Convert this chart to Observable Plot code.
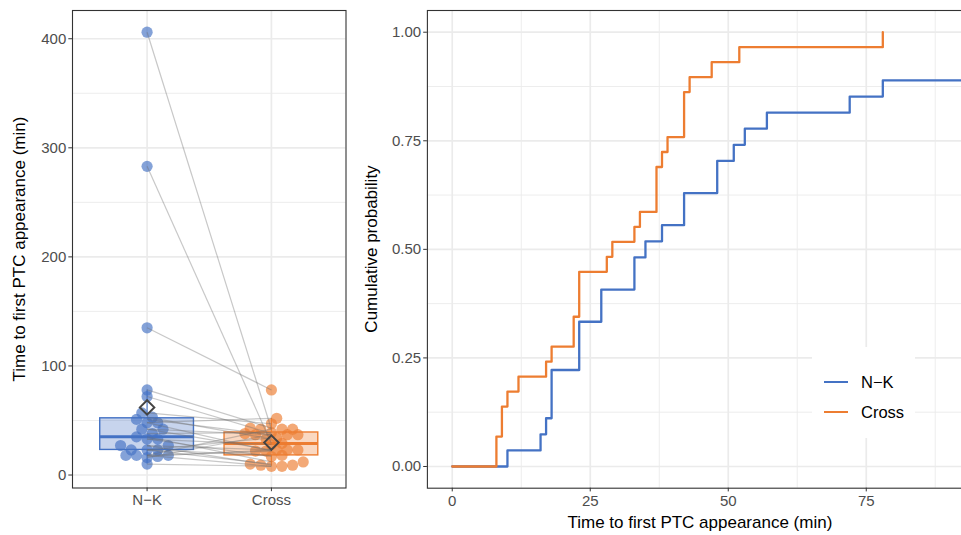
<!DOCTYPE html>
<html><head><meta charset="utf-8">
<script src="https://cdn.jsdelivr.net/npm/d3@7"></script>
<script src="https://cdn.jsdelivr.net/npm/@observablehq/plot@0.6"></script>
<style>
html,body{margin:0;padding:0;background:#fff;overflow:hidden;width:961px;height:535px;}
#wrap{position:relative;width:961px;height:535px;overflow:hidden;font-family:"Liberation Sans",Arial,sans-serif;}
.abs{position:absolute;}
.title{position:absolute;font-size:17px;color:#000;white-space:nowrap;}
</style></head><body><div id="wrap"></div>
<script>
// ---- data ----
const groups = ["N\u2212K", "Cross"];
const groupColors = ["#4472C4", "#ED7D31"];
// paired subjects: nkTimes[i] <-> crossTimes[i]; last two Cross values unpaired
const nkTimes = [406, 283, 135, 78, 72, 57, 53, 51, 48, 48, 42, 42, 38, 35, 33, 33, 27, 27, 23, 23, 23, 18, 18, 18, 17, 16, 10];
const crossTimes = [42, 29, 78, 43, 38, 47, 33, 37, 22, 52, 37, 23, 39, 12, 28, 17, 23, 9, 34, 18, 10, 42, 8, 22, 23, 37, 8, 9, 42];
const leftYTicks = [0, 100, 200, 300, 400];
const leftYMinor = [50, 150, 250, 350];
const ecdfXTicks = [0, 25, 50, 75];
const ecdfXMinor = [12.5, 37.5, 62.5, 87.5];
const ecdfYTicks = [0, 0.25, 0.5, 0.75, 1];
const ecdfYMinor = [0.125, 0.375, 0.625, 0.875];
const yTitle = "Time to first PTC appearance (min)";
const xTitle = "Time to first PTC appearance (min)";
const ecdfYTitle = "Cumulative probability";

const wrap = document.getElementById("wrap");
const FONT = "Liberation Sans, Arial, sans-serif";
const TICK_FS = 15;
const GRID = "#EBEBEB";

// ---- left panel ----
const L = {width: 380, height: 535, ml: 72, mr: 34.5, mt: 10, mb: 47.5};
const leftYDomain = [-11.9, 425.9];
const leftXDomain = [0.4, 2.6];
const yPx = d3.scaleLinear(leftYDomain, [L.height - L.mb, L.mt]);
const pxPerX = (L.width - L.ml - L.mr) / (leftXDomain[1] - leftXDomain[0]);

// beeswarm layout (elliptical collision, in pixels)
function swarm(values, sx, sy) {
  const items = values.map((v, i) => ({v, i, py: yPx(v)})).sort((a, b) => b.py - a.py);
  const placed = [];
  const out = new Array(values.length);
  for (const it of items) {
    let best = 0;
    const cands = [0];
    for (let k = 1; k < 16; k++) { cands.push(k * sx * 0.5, -k * sx * 0.5); }
    for (const c of cands) {
      let ok = true;
      for (const p of placed) {
        const dx = (p.px - c) / sx, dy = (p.py - it.py) / sy;
        if (dx * dx + dy * dy < 1 - 1e-6) { ok = false; break; }
      }
      if (ok) { best = c; break; }
    }
    placed.push({px: best, py: it.py});
    out[it.i] = best / pxPerX;
  }
  return out;
}

const series = [nkTimes, crossTimes];
const points = [];
series.forEach((vals, g) => {
  const off = swarm(vals, 10.6, 6);
  vals.forEach((v, i) => points.push({g: groups[g], gx: g + 1, x: g + 1 + off[i], v}));
});
const pairs = nkTimes.map((v, i) => ({x1: 1, y1: v, x2: 2, y2: crossTimes[i]}));

const boxStats = series.map((vals, g) => {
  const s = vals.slice().sort(d3.ascending);
  const q1 = d3.quantileSorted(s, 0.25), med = d3.quantileSorted(s, 0.5), q3 = d3.quantileSorted(s, 0.75);
  const iqr = q3 - q1;
  const lo = d3.min(s.filter(v => v >= q1 - 1.5 * iqr));
  const hi = d3.max(s.filter(v => v <= q3 + 1.5 * iqr));
  return {g: groups[g], xi: g + 1, x1: g + 1 - 0.377, x2: g + 1 + 0.377, q1, med, q3, lo, hi, mean: d3.mean(s), color: groupColors[g]};
});

const left = Plot.plot({
  width: L.width, height: L.height,
  marginLeft: L.ml, marginRight: L.mr, marginTop: L.mt, marginBottom: L.mb,
  style: {fontFamily: FONT, background: "transparent", overflow: "visible"},
  x: {type: "linear", domain: leftXDomain, axis: null},
  y: {domain: leftYDomain, axis: null},
  marks: [
    Plot.gridY(leftYMinor, {stroke: GRID, strokeOpacity: 1, strokeWidth: 0.9}),
    Plot.gridY(leftYTicks, {stroke: GRID, strokeOpacity: 1, strokeWidth: 1.7}),
    Plot.gridX([1, 2], {stroke: GRID, strokeOpacity: 1, strokeWidth: 1.7}),
    Plot.ruleX(boxStats, {x: "xi", y1: "lo", y2: "q1", stroke: "color", strokeWidth: 1.1}),
    Plot.ruleX(boxStats, {x: "xi", y1: "q3", y2: "hi", stroke: "color", strokeWidth: 1.1}),
    Plot.rect(boxStats, {x1: "x1", x2: "x2", y1: "q1", y2: "q3", fill: "color", fillOpacity: 0.3, stroke: "color", strokeWidth: 1.4}),
    Plot.ruleY(boxStats, {y: "med", x1: "x1", x2: "x2", stroke: "color", strokeWidth: 3}),
    Plot.dot(points, {x: "x", y: "v", r: 5.6, fill: d => groupColors[d.gx - 1], fillOpacity: 0.66, stroke: "none"}),
    Plot.link(pairs, {x1: "x1", y1: "y1", x2: "x2", y2: "y2", stroke: "#6e6e6e", strokeOpacity: 0.38, strokeWidth: 1.2}),
    Plot.dot(boxStats, {x: "xi", y: "mean", symbol: "diamond2", r: 6.5, stroke: "#444", strokeWidth: 2, fill: "none"}),
    Plot.frame({stroke: "#333", strokeWidth: 1.1}),
    Plot.axisY(leftYTicks, {tickSize: 3.7, tickPadding: 2.5, fontSize: TICK_FS, stroke: "#333", fill: "#4D4D4D", label: null}),
    Plot.axisX([1, 2], {tickSize: 3.7, tickPadding: 3, fontSize: TICK_FS, stroke: "#333", fill: "#4D4D4D", label: null, tickFormat: d => groups[d - 1]})
  ]
});
left.style.position = "absolute"; left.style.left = "0px"; left.style.top = "0px";
wrap.appendChild(left);

// ---- right panel (ECDF) ----
const R = {left: 380, width: 600, height: 535, ml: 46.9, mr: 6.6, mt: 10, mb: 47.3};
function ecdf(vals, name) {
  const s = vals.slice().sort(d3.ascending);
  const n = s.length;
  const uniq = Array.from(new Set(s));
  const rows = [{group: name, x: 0, y: 0}];
  for (const u of uniq) rows.push({group: name, x: u, y: s.filter(v => v <= u).length / n});
  return rows;
}
const ecdfRows = ecdf(nkTimes, groups[0]).concat(ecdf(crossTimes, groups[1]));

const right = Plot.plot({
  width: R.width, height: R.height,
  marginLeft: R.ml, marginRight: R.mr, marginTop: R.mt, marginBottom: R.mb,
  style: {fontFamily: FONT, background: "transparent", overflow: "visible"},
  x: {domain: [-4.5, 94.5], axis: null},
  y: {domain: [-0.05, 1.05], axis: null},
  color: {domain: groups, range: groupColors},
  marks: [
    Plot.gridX(ecdfXMinor, {stroke: GRID, strokeOpacity: 1, strokeWidth: 0.9}),
    Plot.gridY(ecdfYMinor, {stroke: GRID, strokeOpacity: 1, strokeWidth: 0.9}),
    Plot.gridX(ecdfXTicks, {stroke: GRID, strokeOpacity: 1, strokeWidth: 1.7}),
    Plot.gridY(ecdfYTicks, {stroke: GRID, strokeOpacity: 1, strokeWidth: 1.7}),
    Plot.line(ecdfRows, {x: "x", y: "y", stroke: "group", curve: "step-after", strokeWidth: 2.3, clip: true}),
    Plot.frame({stroke: "#333", strokeWidth: 1.1}),
    Plot.axisY(ecdfYTicks, {tickSize: 3.7, tickPadding: 2.5, fontSize: TICK_FS, stroke: "#333", fill: "#4D4D4D", label: null, tickFormat: d3.format(".2f")}),
    Plot.axisX(ecdfXTicks, {tickSize: 3.7, tickPadding: 3, fontSize: TICK_FS, stroke: "#333", fill: "#4D4D4D", label: null})
  ]
});
right.style.position = "absolute"; right.style.left = R.left + "px"; right.style.top = "0px";
wrap.appendChild(right);

// ---- titles ----
function addTitle(text, cx, cy, rotate) {
  const d = document.createElement("div");
  d.className = "title";
  d.textContent = text;
  wrap.appendChild(d);
  const w = d.offsetWidth, h = d.offsetHeight;
  d.style.left = (cx - w / 2) + "px";
  d.style.top = (cy - h / 2) + "px";
  if (rotate) d.style.transform = "rotate(-90deg)";
}
addTitle(yTitle, 20, 248.75, true);
addTitle(ecdfYTitle, 371, 248.85, true);
addTitle(xTitle, 700, 523, false);

// ---- legend ----
const leg = document.createElement("div");
leg.className = "abs";
Object.assign(leg.style, {left: "811.7px", top: "346.5px", width: "103px", height: "91px", background: "#fff"});
groups.forEach((g, i) => {
  const cy = 35.5 + i * 29.7;
  const ln = document.createElement("div");
  Object.assign(ln.style, {position: "absolute", left: "12.6px", top: (cy - 1.15) + "px", width: "24px", height: "2.3px", background: groupColors[i]});
  leg.appendChild(ln);
  const t = document.createElement("div");
  t.textContent = g;
  Object.assign(t.style, {position: "absolute", left: "49.3px", top: (cy - 10) + "px", fontSize: "16.5px", lineHeight: "20px", color: "#000", whiteSpace: "nowrap"});
  leg.appendChild(t);
});
wrap.appendChild(leg);
</script></body></html>
